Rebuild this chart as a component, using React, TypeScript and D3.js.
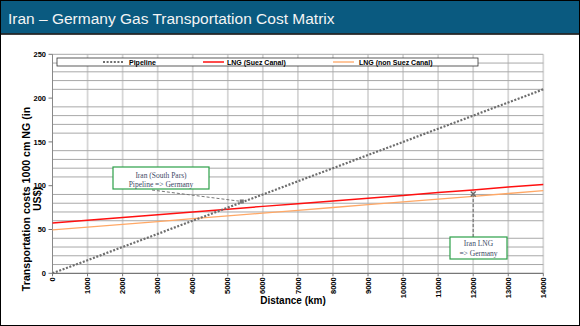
import React from "react";
import * as d3 from "d3";

const distances = [0, 1000, 2000, 3000, 4000, 5000, 6000, 7000, 8000, 9000, 10000, 11000, 12000, 13000, 14000];
const pipeline = [0, 15, 30, 45, 60, 75, 90, 105, 120, 135, 150, 165, 180, 195, 210];
const lngSuez = [57.5, 60.6, 63.8, 66.9, 70.1, 73.2, 76.4, 79.5, 82.6, 85.8, 88.9, 92.1, 95.2, 98.4, 101.5];
const lngNonSuez = [49.5, 52.7, 55.9, 59.1, 62.3, 65.5, 68.7, 71.9, 75.1, 78.3, 81.5, 84.7, 87.9, 91.1, 94.3];
const yTicks = [0, 50, 100, 150, 200, 250];
const yGrid = [10, 20, 30, 40, 60, 70, 80, 90, 110, 120, 130, 140, 160, 170, 180, 190, 210, 220, 230, 240, 250];
const xTicks = [0, 1000, 2000, 3000, 4000, 5000, 6000, 7000, 8000, 9000, 10000, 11000, 12000, 13000, 14000];
const seriesNames = ["Pipeline", "LNG (Suez Canal)", "LNG (non Suez Canal)"];
const title = "Iran \u2013 Germany Gas Transportation Cost Matrix";
const pipeNote = { lines: ["Iran (South Pars)", "Pipeline => Germany"], target: [5400, 82] };
const lngNote = { lines: ["Iran LNG", "=> Germany"], target: [12000, 90.5] };

export default function App() {
  const W = 580, H = 326;
  const x = d3.scaleLinear().domain([0, 14000]).range([52.5, 543.3]);
  const y = d3.scaleLinear().domain([0, 250]).range([273.3, 54.3]);
  const line = (vals: number[]) =>
    d3.line<number>().x((_, i) => x(distances[i])).y((v) => y(v))(vals) || "";

  const legendItems = [
    { name: seriesNames[0], x0: 103, tx: 129, stroke: "#6e6e6e", dash: "2 1.6", w: 2 },
    { name: seriesNames[1], x0: 203, tx: 227, stroke: "#ff1010", dash: "", w: 1.5 },
    { name: seriesNames[2], x0: 333, tx: 359, stroke: "#ffa866", dash: "", w: 1.3 },
  ];

  const serif = "'Liberation Serif', 'DejaVu Serif', serif";
  const sans = "Arial, 'Liberation Sans', sans-serif";

  const pTx = x(pipeNote.target[0]), pTy = y(pipeNote.target[1]);
  const lTx = x(lngNote.target[0]), lTy = y(lngNote.target[1]);

  return (
    <svg width={W} height={H} style={{ position: "fixed", left: 0, top: 0, background: "#fff" }} fontFamily={sans}>
      <rect x={0} y={0} width={W} height={H} fill="#fff" />
      {/* header */}
      <rect x={0} y={0} width={W} height={33.5} fill="#0a5a80" />
      <line x1={0} x2={W} y1={34} y2={34} stroke="#000" strokeWidth={1.5} />
      <text x={8} y={23.5} fill="#f4f4f4" fontSize={15.5}>{title}</text>
      {/* outer border */}
      <rect x={0.5} y={0.5} width={W - 1} height={H - 1} fill="none" stroke="#000" strokeWidth={1} />

      {/* vertical grid */}
      {xTicks.slice(1).map((t) => (
        <line key={"vg" + t} x1={x(t)} x2={x(t)} y1={y(250)} y2={y(0)} stroke="#d6d6d6" strokeWidth={1.8} />
      ))}
      {/* horizontal grid */}
      {yGrid.map((t) => (
        <line key={"hg" + t} x1={x(0)} x2={x(14000)} y1={y(t)} y2={y(t)} stroke="#a8a8a8" strokeWidth={1} />
      ))}
      {/* axes */}
      <line x1={x(0)} x2={x(0)} y1={y(250)} y2={y(0)} stroke="#888" strokeWidth={1} />
      <line x1={x(0)} x2={x(14000)} y1={y(0)} y2={y(0)} stroke="#777" strokeWidth={1.2} />
      {yTicks.map((t) => (
        <g key={"yt" + t}>
          <line x1={x(0) - 4} x2={x(0)} y1={y(t)} y2={y(t)} stroke="#777" />
          <text x={46} y={y(t)} dy="0.35em" textAnchor="end" fontSize={7.5} fontWeight="bold" fill="#000">{t}</text>
        </g>
      ))}
      {xTicks.map((t) => (
        <g key={"xt" + t}>
          <line x1={x(t)} x2={x(t)} y1={y(0)} y2={y(0) + 3} stroke="#777" />
          <text
            transform={`translate(${x(t)},${y(0) + 4}) rotate(-90)`}
            dy="0.35em"
            textAnchor="end"
            fontSize={7.5}
            fontWeight="bold"
            fill="#000"
          >{t}</text>
        </g>
      ))}

      {/* series */}
      <path d={line(lngNonSuez)} fill="none" stroke="#ffa866" strokeWidth={1.3} />
      <path d={line(lngSuez)} fill="none" stroke="#ff1010" strokeWidth={1.5} />
      <path d={line(pipeline)} fill="none" stroke="#6e6e6e" strokeWidth={2.2} strokeDasharray="2 1.6" />

      {/* legend */}
      <rect x={57} y={58} width={421} height={8} fill="#fff" stroke="#333" strokeWidth={0.8} />
      {legendItems.map((it) => (
        <g key={it.name}>
          <line x1={it.x0} x2={it.x0 + 21} y1={62} y2={62} stroke={it.stroke} strokeWidth={it.w} strokeDasharray={it.dash || undefined} />
          <text x={it.tx} y={64.5} fontSize={7} fontWeight="bold" fill="#000">{it.name}</text>
        </g>
      ))}

      {/* axis titles */}
      <text transform="translate(29.5,199) rotate(-90)" textAnchor="middle" fontSize={10.6} fontWeight="bold" fill="#000">Transportation costs 1000 cm NG (in</text>
      <text transform="translate(40.5,199) rotate(-90)" textAnchor="middle" fontSize={10.6} fontWeight="bold" fill="#000">US$)</text>
      <text x={293} y={304} textAnchor="middle" fontSize={10} fontWeight="bold" fill="#000">Distance (km)</text>

      {/* annotation: pipeline */}
      <line x1={152} y1={190} x2={pTx} y2={pTy} stroke="#777" strokeWidth={1} strokeDasharray="3 2" />
      <rect x={pTx - 2} y={pTy - 2} width={4} height={4} fill="#777" />
      <rect x={113} y={167} width={96} height={22} fill="#fff" stroke="#2ca048" strokeWidth={1.2} />
      <text x={161} y={177.5} textAnchor="middle" fontSize={7.5} fontFamily={serif} fill="#3c4a66">{pipeNote.lines[0]}</text>
      <text x={161} y={186.5} textAnchor="middle" fontSize={7.5} fontFamily={serif} fill="#3c4a66">{pipeNote.lines[1]}</text>

      {/* annotation: LNG */}
      <line x1={lTx} y1={lTy} x2={lTx} y2={237} stroke="#777" strokeWidth={1.2} strokeDasharray="3 2" />
      <path d={`M${lTx - 2.5},${lTy - 2.5}L${lTx + 2.5},${lTy + 2.5}M${lTx + 2.5},${lTy - 2.5}L${lTx - 2.5},${lTy + 2.5}`} stroke="#666" strokeWidth={1.3} />
      <rect x={450} y={237} width={57} height={22} fill="#fff" stroke="#2ca048" strokeWidth={1.2} />
      <text x={478.5} y={246} textAnchor="middle" fontSize={7.5} fontFamily={serif} fill="#3c4a66">{lngNote.lines[0]}</text>
      <text x={478.5} y={255.5} textAnchor="middle" fontSize={7.5} fontFamily={serif} fill="#3c4a66">{lngNote.lines[1]}</text>
    </svg>
  );
}
